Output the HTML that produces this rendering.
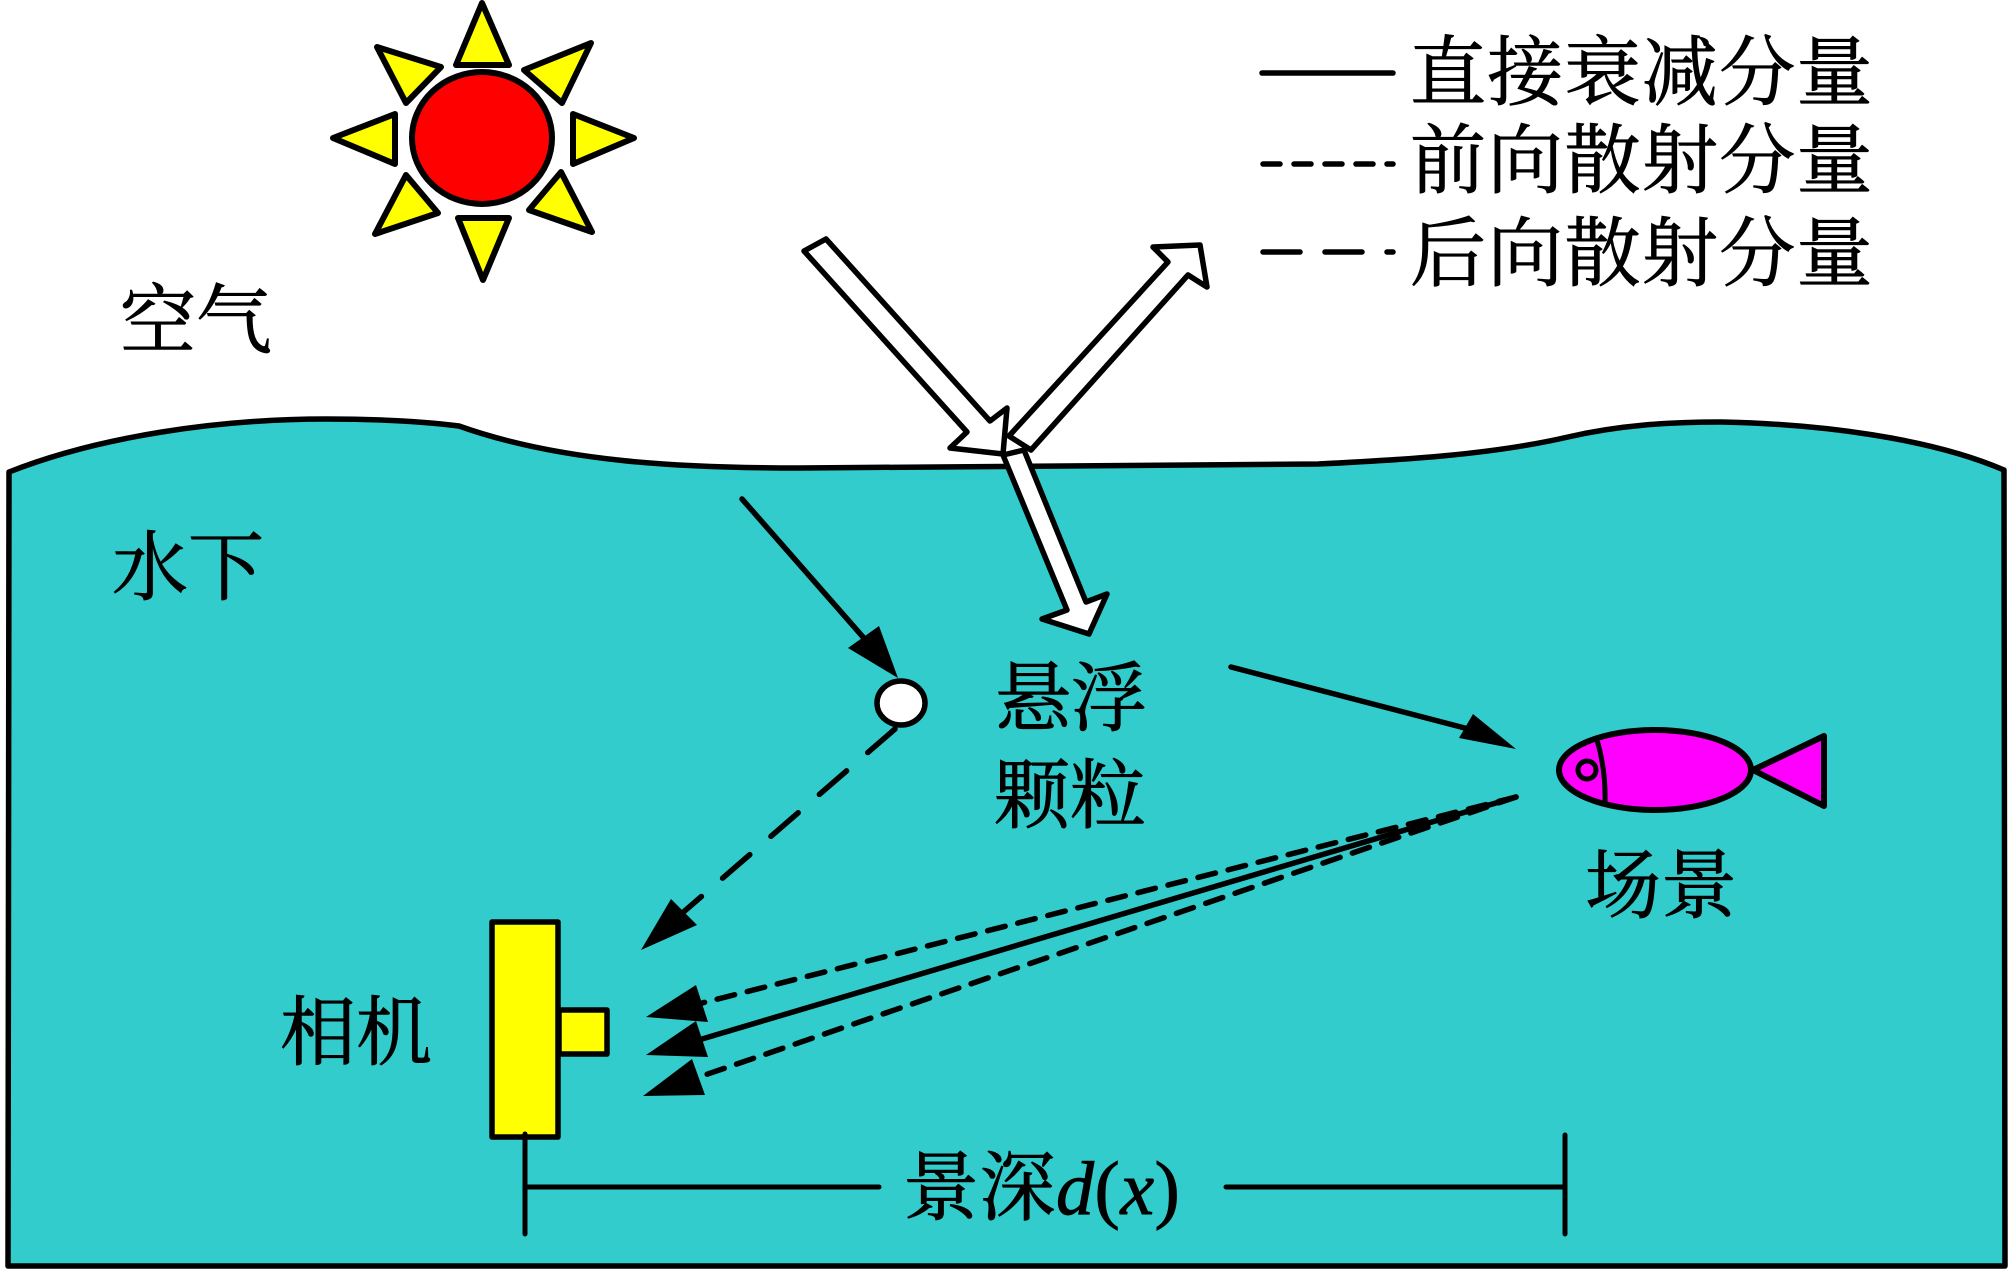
<!DOCTYPE html>
<html><head><meta charset="utf-8"><style>
html,body{margin:0;padding:0;background:#fff;width:2011px;height:1269px;overflow:hidden}
svg{display:block}
text{font-family:"Liberation Serif","Noto Serif CJK SC",serif;font-size:76px;fill:#000;stroke:#000;stroke-width:.9px}
.leg{letter-spacing:1.3px}
</style></head><body>
<svg width="2011" height="1269" viewBox="0 0 2011 1269" xmlns="http://www.w3.org/2000/svg">
<rect width="2011" height="1269" fill="#fff"/>
<path d="M9 472 C100 436 220 419 326 419 C375 419 420 421 459 426 C560 462 680 468 800 468 L1318 464 C1400 460 1490 455 1568 437 C1620 425 1670 422 1721 422 C1820 424 1930 438 2004 470 L2005 1266 L8 1266 Z" fill="#33CCCC" stroke="#000" stroke-width="5.5" stroke-linejoin="round"/>
<g fill="#FFFF00" stroke="#000" stroke-width="6" stroke-linejoin="round">
<polygon points="482,3 509,65 456,65"/><polygon points="591,43 562,103 524,70"/><polygon points="377,47 406,103 441,67"/><polygon points="333,138 395,114 395,164"/><polygon points="634,138 573,114 573,164"/><polygon points="406,175 438,213 375,234"/><polygon points="561,172 592,232 529,210"/><polygon points="483,280 458,218 509,218"/>
</g>
<ellipse cx="482" cy="138" rx="70" ry="66" fill="#FF0000" stroke="#000" stroke-width="6"/>
<g fill="#fff" stroke="#000" stroke-width="5.5" stroke-linejoin="round">
<polygon points="1009,436 1031,450 1188,275 1207,287 1200,245 1153,247 1168,262"/>
<polygon points="1003,455 1024,450 1086,602 1107,594 1089,634 1042,619 1067,610"/>
<polygon points="826,239 804,251 967,432 950,448 1003,454 1007,408 990,421"/>
</g>
<g stroke="#000" stroke-width="5.5" fill="none" stroke-linecap="round">
<line x1="742" y1="499" x2="870" y2="645"/>
<line x1="895" y1="729" x2="680" y2="915" stroke-dasharray="36 28"/>
<line x1="1231" y1="667" x2="1480" y2="732"/>
<line x1="1516" y1="797" x2="702" y2="1039"/>
<line x1="1516" y1="797" x2="702" y2="1003" stroke-dasharray="18 13"/>
<line x1="1516" y1="797" x2="699" y2="1077" stroke-dasharray="18 13"/>
<line x1="1262" y1="73" x2="1393" y2="73"/>
<line x1="1263" y1="164" x2="1393" y2="164" stroke-dasharray="17 14"/>
<line x1="1263" y1="252" x2="1393" y2="252" stroke-dasharray="37 25"/>
</g>
<g fill="#000">
<polygon points="898,678 879,626 848,648"/>
<polygon points="641,950 671,899 697,925"/>
<polygon points="1516,749 1473,714 1459,738"/>
<polygon points="646,1017 708,1022 696,985"/>
<polygon points="646,1055 708,1057 696,1021"/>
<polygon points="643,1096 705,1095 692,1059"/>
</g>
<ellipse cx="901" cy="703" rx="24" ry="22" fill="#fff" stroke="#000" stroke-width="5.5"/>
<rect x="559" y="1010" width="48" height="44" fill="#FFFF00" stroke="#000" stroke-width="5.5" stroke-linejoin="round"/>
<rect x="492" y="922" width="66" height="215" fill="#FFFF00" stroke="#000" stroke-width="5.5" stroke-linejoin="round"/>
<g stroke="#000" stroke-width="5" stroke-linecap="round" fill="none">
<line x1="525" y1="1134" x2="525" y2="1234"/>
<line x1="525" y1="1187" x2="879" y2="1187"/>
<line x1="1226" y1="1187" x2="1565" y2="1187"/>
<line x1="1565" y1="1135" x2="1565" y2="1234"/>
</g>
<polygon points="1753,770 1824,736 1824,806" fill="#FF00FF" stroke="#000" stroke-width="6" stroke-linejoin="round"/>
<ellipse cx="1655" cy="770" rx="96" ry="40" fill="#FF00FF" stroke="#000" stroke-width="6"/>
<path d="M1597 740 Q1606 770 1605 804" fill="none" stroke="#000" stroke-width="5"/>
<circle cx="1587" cy="770" r="9" fill="none" stroke="#000" stroke-width="5"/>
<text class="leg" x="1410" y="99">直接衰减分量</text>
<text class="leg" x="1410" y="187">前向散射分量</text>
<text class="leg" x="1410" y="280">后向散射分量</text>
<text x="120" y="347">空气</text>
<text x="112" y="594">水下</text>
<text x="995" y="725">悬浮</text>
<text x="994" y="822">颗粒</text>
<text x="280" y="1059">相机</text>
<text x="1585" y="912">场景</text>
<text x="903" y="1214" letter-spacing=".5">景深<tspan font-style="italic">d</tspan>(<tspan font-style="italic">x</tspan>)</text>
</svg>
</body></html>
